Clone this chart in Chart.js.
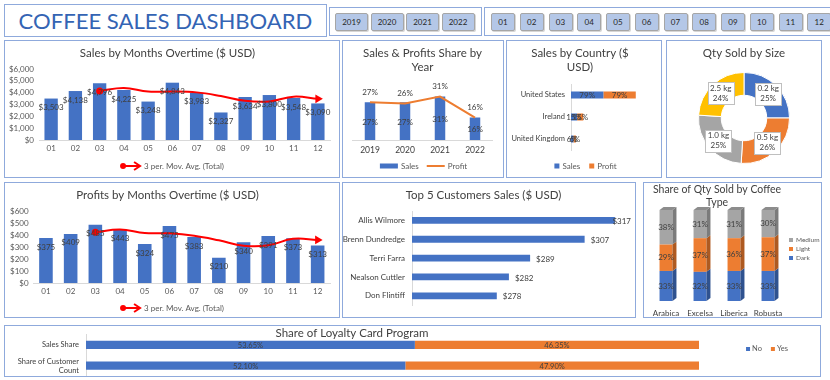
<!DOCTYPE html>
<html>
<head>
<meta charset="utf-8">
<script src="https://cdn.jsdelivr.net/npm/chart.js@4/dist/chart.umd.min.js"></script>
<style>
  html,body{margin:0;padding:0;background:#fff;}
  body{width:830px;height:380px;overflow:hidden;position:relative;font-family:Lato,"Open Sans",sans-serif;}
  .panel{position:absolute;border:1px solid #8faadc;box-sizing:border-box;background:#fff;}
  .panel canvas{position:absolute;left:0;top:0;}
  .btn{position:absolute;box-sizing:border-box;background:#b4c7e7;border:1px solid #a6a6a6;border-radius:2px;
       box-shadow:1px 1px 0 #d6d6d6;font-size:8px;color:#262626;text-align:center;line-height:16px;}
  #title{position:absolute;left:0;top:0;width:100%;text-align:center;color:#3464b4;white-space:nowrap;}
</style>
</head>
<body>
<div class="panel" style="left:4px;top:4px;width:323px;height:33px;"><div id="title">COFFEE SALES DASHBOARD</div></div>
<div class="panel" id="yearBox" style="left:329px;top:7px;width:153px;height:29px;"></div>
<div class="panel" id="monthBox" style="left:484px;top:7px;width:360px;height:29px;"></div>

<div class="panel" style="left:4px;top:40px;width:336px;height:138px;"><canvas id="cSales" width="334" height="136"></canvas></div>
<div class="panel" style="left:342px;top:40px;width:162px;height:138px;"><canvas id="cShare" width="160" height="136"></canvas></div>
<div class="panel" style="left:506px;top:40px;width:156px;height:138px;"><canvas id="cCountry" width="154" height="136"></canvas></div>
<div class="panel" style="left:666px;top:40px;width:156px;height:138px;"><canvas id="cSize" width="154" height="136"></canvas></div>

<div class="panel" style="left:4px;top:182px;width:336px;height:136px;"><canvas id="cProfit" width="334" height="134"></canvas></div>
<div class="panel" style="left:342px;top:182px;width:294px;height:136px;"><canvas id="cTop" width="292" height="134"></canvas></div>
<div class="panel" style="left:643px;top:182px;width:179px;height:136px;"><canvas id="cType" width="177" height="134"></canvas></div>

<div class="panel" style="left:4px;top:325px;width:817px;height:52px;"><canvas id="cLoyal" width="815" height="50"></canvas></div>

<script>
// ---------------- DATA ----------------
const yearButtons = ['2019','2020','2021','2022'];
const monthButtons = ['01','02','03','04','05','06','07','08','09','10','11','12'];

const months = ['01','02','03','04','05','06','07','08','09','10','11','12'];
const salesByMonth = [3503,4138,4796,4225,3248,4843,3983,2327,3634,3800,3548,3090];
const salesMovAvg = [null,null,4146,4386,4090,4105,4025,3718,3315,3254,3661,3479];
const profitByMonth = [375,409,485,443,324,475,383,210,340,391,373,313];
const profitMovAvg = [null,null,423,446,417,414,394,356,311,314,368,359];

const years = ['2019','2020','2021','2022'];
const salesShareByYear = [27,27,31,16];
const profitShareByYear = [27,26,31,16];

const countries = ['United States','Ireland','United Kingdom'];
const countrySalesShare = [79,15,6];
const countryProfitShare = [79,15,6];

const sizes = ['0.2 kg','0.5 kg','1.0 kg','2.5 kg'];
const sizeShare = [25,26,25,24];

const customers = ['Allis Wilmore','Brenn Dundredge','Terri Farra','Nealson Cuttler','Don Flintiff'];
const customerSales = [317,307,289,282,278];

const coffeeTypes = ['Arabica','Excelsa','Liberica','Robusta'];
const roastDark = [33,32,33,33];
const roastLight = [29,37,36,37];
const roastMedium = [38,31,31,30];

const loyaltyCats = ['Sales Share',['Share of Customer','Count']];
const loyaltyNo = [53.65,52.10];
const loyaltyYes = [46.35,47.90];

// ---------------- STYLE ----------------
const FONT = 'Lato, "Open Sans", sans-serif';
const BLUE = '#4472C4', ORANGE = '#ED7D31', GRAY = '#A5A5A5', YELLOW = '#FFC000', RED = '#FF0000';
const TXT = '#404040', TXT2 = '#595959', AXIS = '#d9d9d9';
const TS = 11.5; // chart title size
Chart.defaults.font.family = FONT;
Chart.defaults.color = TXT2;
Chart.defaults.animation = false;
Chart.defaults.responsive = false;
Chart.defaults.devicePixelRatio = 1;
Chart.defaults.plugins.tooltip.enabled = false;
Chart.defaults.plugins.legend.display = false;

// buttons
function makeButtons(boxId, labels, x0, step, w) {
  const box = document.getElementById(boxId);
  labels.forEach((t, i) => {
    const b = document.createElement('div');
    b.className = 'btn';
    b.textContent = t;
    b.style.left = (x0 + i * step) + 'px';
    b.style.top = '5px'; b.style.width = w + 'px'; b.style.height = '18px';
    box.appendChild(b);
  });
}
makeButtons('yearBox', yearButtons, 5, 35.5, 33);
makeButtons('monthBox', monthButtons, 6, 28.75, 24);

// main title sizing
(function(){
  const t = document.getElementById('title');
  const c = document.createElement('canvas').getContext('2d');
  c.font = '100px Lato';
  const w = c.measureText(t.textContent).width;
  const fs = 100 * 294 / w;
  t.style.fontSize = fs.toFixed(2) + 'px';
  t.style.lineHeight = '31px';
})();

// ---------------- PLUGINS ----------------
function labelPlugin(id, specs) {
  return { id, afterDatasetsDraw(chart) {
    const ctx = chart.ctx;
    specs.forEach(s => {
      const meta = chart.getDatasetMeta(s.ds);
      const vals = chart.data.datasets[s.ds].data;
      ctx.save();
      ctx.font = s.font; ctx.fillStyle = s.color || TXT;
      ctx.textAlign = s.align || 'center'; ctx.textBaseline = 'middle';
      meta.data.forEach((el, i) => {
        const v = vals[i];
        if (v === null || v === undefined) return;
        const t = s.fmt(v);
        const p = s.pos(el, ctx.measureText(t).width, chart);
        ctx.fillText(t, p.x, p.y);
      });
      ctx.restore();
    });
  }};
}

function markerDraw(ctx, it, x, y) {
  if (it.type === 'rect') { ctx.fillStyle = it.color; ctx.fillRect(x, y - it.h / 2, it.w, it.h); }
  else if (it.type === 'line') {
    ctx.strokeStyle = it.color; ctx.lineWidth = 2;
    ctx.beginPath(); ctx.moveTo(x, y); ctx.lineTo(x + it.w, y); ctx.stroke();
  } else if (it.type === 'arrow') {
    ctx.strokeStyle = it.color; ctx.fillStyle = it.color; ctx.lineWidth = 2;
    ctx.beginPath(); ctx.moveTo(x + 2, y); ctx.lineTo(x + it.w - 1, y); ctx.stroke();
    ctx.beginPath(); ctx.arc(x + 3, y, 3, 0, Math.PI * 2); ctx.fill();
    ctx.beginPath(); ctx.moveTo(x + it.w - 6, y - 4); ctx.lineTo(x + it.w, y); ctx.lineTo(x + it.w - 6, y + 4); ctx.stroke();
  }
}
function legendPlugin(id, cfg) {
  return { id, afterDraw(chart) {
    const ctx = chart.ctx;
    ctx.save();
    ctx.font = cfg.font; ctx.textBaseline = 'middle'; ctx.textAlign = 'left';
    const items = cfg.items.map(it => Object.assign({}, it, {
      text: it.text !== undefined ? it.text : chart.data.datasets[it.ds].label,
      color: it.color || chart.data.datasets[it.ds].backgroundColor
    }));
    if (cfg.vertical) {
      items.forEach((it, i) => {
        const y = cfg.y + i * cfg.step;
        markerDraw(ctx, it, cfg.x, y);
        ctx.fillStyle = TXT2; ctx.fillText(it.text, cfg.x + it.w + cfg.gap, y);
      });
    } else {
      const widths = items.map(it => it.w + cfg.gap + ctx.measureText(it.text).width);
      const total = widths.reduce((a, b) => a + b, 0) + cfg.spacing * (items.length - 1);
      let x = cfg.cx - total / 2;
      items.forEach((it, i) => {
        markerDraw(ctx, it, x, cfg.cy);
        ctx.fillStyle = TXT2; ctx.fillText(it.text, x + it.w + cfg.gap, cfg.cy);
        x += widths[i] + cfg.spacing;
      });
    }
    ctx.restore();
  }};
}

const titleOpts = (text, size, lh, top, bottom) => ({
  display: true, text, color: TXT,
  font: { size, weight: 'normal', lineHeight: lh, family: FONT },
  padding: { top, bottom }
});

function firstIdx(arr) { return arr.findIndex(v => v !== null); }
const money = v => '$' + Number(v).toLocaleString('en-US');

// ---------------- SALES / PROFITS BY MONTHS ----------------
function monthChart(id, bars, ma, maxV, step, yWidth, padBottom, titleText) {
  const f = firstIdx(ma), l = ma.length - 1;
  return new Chart(document.getElementById(id), {
    type: 'bar',
    data: { labels: months, datasets: [
      { label: 'Total', data: bars, backgroundColor: BLUE, barPercentage: 0.55, categoryPercentage: 1, order: 1 },
      { type: 'line', label: '3 per. Mov. Avg. (Total)', data: ma, borderColor: RED, backgroundColor: RED,
        borderWidth: 2, tension: 0.4, order: 0,
        pointRadius: c => c.dataIndex === f ? 3.5 : (c.dataIndex === l ? 5 : 0),
        pointStyle: c => c.dataIndex === l ? 'triangle' : 'circle',
        rotation: c => c.dataIndex === l ? 90 : 0,
        pointBackgroundColor: RED, pointBorderColor: RED, pointBorderWidth: 0 }
    ]},
    options: {
      layout: { padding: { left: 0, right: 9, top: 0, bottom: padBottom } },
      plugins: { title: titleOpts(titleText, TS, 1.2, 5.5, 8.7) },
      scales: {
        x: { grid: { display: false, drawTicks: false }, border: { color: AXIS },
             ticks: { font: { size: 8 }, padding: 4, color: TXT2, autoSkip: false, maxRotation: 0 },
             afterFit: s => { s.height = 14; } },
        y: { min: 0, max: maxV, grid: { display: false, drawTicks: false }, border: { display: false },
             ticks: { stepSize: step, padding: 5, font: { size: 8 }, color: TXT2, autoSkip: false, callback: v => money(v) },
             afterFit: s => { s.width = yWidth; } }
      }
    },
    plugins: [
      labelPlugin(id + 'L', [{ ds: 0, font: '8px ' + FONT, color: TXT, fmt: money, pos: el => ({ x: el.x, y: el.y + 9 }) }]),
      legendPlugin(id + 'G', { font: '8px ' + FONT, cx: 167, cy: 125, gap: 4, spacing: 8,
        items: [{ ds: 1, type: 'arrow', w: 20, h: 8, color: RED }] })
    ]
  });
}
monthChart('cSales', salesByMonth, salesMovAvg, 6000, 1000, 34, 23, 'Sales by Months Overtime ($ USD)');
monthChart('cProfit', profitByMonth, profitMovAvg, 600, 100, 28.6, 20, 'Profits by Months Overtime ($ USD)');

// ---------------- SALES & PROFITS SHARE BY YEAR ----------------
new Chart(document.getElementById('cShare'), {
  type: 'bar',
  data: { labels: years, datasets: [
    { label: 'Sales', data: salesShareByYear, backgroundColor: BLUE, barPercentage: 0.3, categoryPercentage: 1, order: 1 },
    { type: 'line', label: 'Profit', data: profitShareByYear, borderColor: ORANGE, backgroundColor: ORANGE,
      borderWidth: 2, pointRadius: 0, tension: 0, order: 0 }
  ]},
  options: {
    layout: { padding: { left: 9.5, right: 10.5, top: 0, bottom: 21 } },
    plugins: { title: titleOpts(['Sales & Profits Share by', 'Year'], TS, 1.2, 5.5, 9.9) },
    scales: {
      x: { grid: { display: false, drawTicks: false }, border: { color: AXIS },
           ticks: { font: { size: 8.5 }, padding: 5, color: TXT, autoSkip: false, maxRotation: 0 },
           afterFit: s => { s.height = 16; } },
      y: { display: false, min: 0, max: 40 }
    }
  },
  plugins: [
    labelPlugin('shareL', [
      { ds: 0, font: '8px ' + FONT, fmt: v => v + '%', pos: el => ({ x: el.x, y: (el.y + el.base) / 2 + 1 }) },
      { ds: 1, font: '8px ' + FONT, fmt: v => v + '%', pos: el => ({ x: el.x, y: el.y - 10 }) }
    ]),
    legendPlugin('shareG', { font: '8px ' + FONT, cx: 80.5, cy: 125, gap: 3, spacing: 8,
      items: [{ ds: 0, type: 'rect', w: 18, h: 5 }, { ds: 1, type: 'line', w: 18, h: 2 }] })
  ]
});

// ---------------- SALES BY COUNTRY ----------------
new Chart(document.getElementById('cCountry'), {
  type: 'bar',
  data: { labels: countries, datasets: [
    { label: 'Sales', data: countrySalesShare, backgroundColor: BLUE, barPercentage: 0.32, categoryPercentage: 1 },
    { label: 'Profit', data: countryProfitShare, backgroundColor: ORANGE, barPercentage: 0.32, categoryPercentage: 1 }
  ]},
  options: {
    indexAxis: 'y',
    layout: { padding: { left: 0, right: 8, top: 0, bottom: 27 } },
    plugins: { title: titleOpts(['Sales by Country ($', 'USD)'], TS, 1.2, 5.5, 9.9) },
    scales: {
      x: { stacked: true, display: false, min: 0, max: 200 },
      y: { stacked: true, grid: { display: false, drawTicks: false }, border: { color: AXIS },
           ticks: { font: { size: 7.5 }, padding: 6, color: TXT, autoSkip: false }, afterFit: s => { s.width = 64; } }
    }
  },
  plugins: [
    labelPlugin('ctyL', [
      { ds: 0, font: '8px ' + FONT, fmt: v => v + '%', pos: el => ({ x: (el.x + el.base) / 2, y: el.y }) },
      { ds: 1, font: '8px ' + FONT, fmt: v => v + '%', pos: el => ({ x: (el.x + el.base) / 2, y: el.y }) }
    ]),
    legendPlugin('ctyG', { font: '8px ' + FONT, cx: 78.5, cy: 125, gap: 3, spacing: 9,
      items: [{ ds: 0, type: 'rect', w: 5, h: 5 }, { ds: 1, type: 'rect', w: 5, h: 5 }] })
  ]
});

// ---------------- QTY SOLD BY SIZE ----------------
new Chart(document.getElementById('cSize'), {
  type: 'doughnut',
  data: { labels: sizes, datasets: [
    { data: sizeShare, backgroundColor: [BLUE, ORANGE, GRAY, YELLOW], borderColor: '#ffffff', borderWidth: 1 }
  ]},
  options: {
    cutout: '50%',
    layout: { padding: { left: 0, right: 0, top: 0, bottom: 13 } },
    plugins: { title: titleOpts('Qty Sold by Size', TS, 1.2, 5.5, 11.7) }
  },
  plugins: [{ id: 'sizeBoxes', afterDatasetsDraw(chart) {
    const ctx = chart.ctx; const meta = chart.getDatasetMeta(0);
    const vals = chart.data.datasets[0].data;
    ctx.save();
    ctx.font = '8px ' + FONT; ctx.textAlign = 'center'; ctx.textBaseline = 'middle';
    meta.data.forEach((arc, i) => {
      const p = arc.getCenterPoint();
      const w = 26, h = 22;
      const bx = Math.round(p.x - w / 2) + 0.5, by = Math.round(p.y - h / 2) + 0.5;
      ctx.fillStyle = '#ffffff'; ctx.fillRect(bx, by, w, h);
      ctx.strokeStyle = '#bfbfbf'; ctx.lineWidth = 1; ctx.strokeRect(bx, by, w, h);
      ctx.fillStyle = TXT;
      ctx.fillText(chart.data.labels[i], p.x, p.y - 5);
      ctx.fillText(vals[i] + '%', p.x, p.y + 5);
    });
    ctx.restore();
  }}]
});

// ---------------- TOP 5 CUSTOMERS ----------------
new Chart(document.getElementById('cTop'), {
  type: 'bar',
  data: { labels: customers, datasets: [
    { label: 'Sales', data: customerSales, backgroundColor: BLUE, barPercentage: 0.36, categoryPercentage: 1 }
  ]},
  options: {
    indexAxis: 'y',
    layout: { padding: { left: 0, right: 11, top: 0, bottom: 6 } },
    plugins: { title: titleOpts('Top 5 Customers Sales ($ USD)', TS, 1.2, 5.5, 8.7) },
    scales: {
      x: { display: false, min: 250, max: 320 },
      y: { grid: { display: false, drawTicks: false }, border: { color: AXIS },
           ticks: { font: { size: 8 }, padding: 7, color: TXT, autoSkip: false }, afterFit: s => { s.width = 69; } }
    }
  },
  plugins: [labelPlugin('topL', [{ ds: 0, font: '8px ' + FONT, align: 'left', fmt: money,
    pos: (el, tw, chart) => ({ x: Math.min(el.x + 6, chart.width - tw - 4), y: el.y + 1 }) }])]
});

// ---------------- SHARE OF QTY BY COFFEE TYPE (3D look) ----------------
new Chart(document.getElementById('cType'), {
  type: 'bar',
  data: { labels: coffeeTypes, datasets: [
    { label: 'Dark', data: roastDark, backgroundColor: BLUE, sideColor: '#2F528F', barPercentage: 0.38, categoryPercentage: 1 },
    { label: 'Light', data: roastLight, backgroundColor: ORANGE, sideColor: '#AE5A21', barPercentage: 0.38, categoryPercentage: 1 },
    { label: 'Medium', data: roastMedium, backgroundColor: GRAY, sideColor: '#7B7B7B', topColor: '#8C8C8C', barPercentage: 0.38, categoryPercentage: 1 }
  ]},
  options: {
    layout: { padding: { left: 5, right: 36, top: 0, bottom: 0 } },
    plugins: { title: titleOpts(['Share of Qty Sold by Coffee', 'Type'], 10.5, 1.15, 1, 1.8) },
    scales: {
      x: { stacked: true, grid: { display: false, drawTicks: false }, border: { display: false },
           ticks: { font: { size: 8 }, padding: 8, color: TXT, autoSkip: false, maxRotation: 0, minRotation: 0 },
           afterFit: s => { s.height = 16; } },
      y: { stacked: true, display: false, min: 0, max: 100 }
    }
  },
  plugins: [
    { id: 'bar3d', afterDatasetsDraw(chart) {
      const ctx = chart.ctx; const dx = 4, dy = 3;
      const n = chart.data.datasets.length;
      ctx.save();
      chart.data.datasets.forEach((ds, di) => {
        chart.getDatasetMeta(di).data.forEach(el => {
          const l = el.x - el.width / 2, r = el.x + el.width / 2, t = el.y, b = el.base;
          ctx.fillStyle = ds.sideColor;
          ctx.beginPath(); ctx.moveTo(r, t); ctx.lineTo(r + dx, t - dy); ctx.lineTo(r + dx, b - dy); ctx.lineTo(r, b); ctx.closePath(); ctx.fill();
          if (di === n - 1) {
            ctx.fillStyle = ds.topColor;
            ctx.beginPath(); ctx.moveTo(l, t); ctx.lineTo(l + dx, t - dy); ctx.lineTo(r + dx, t - dy); ctx.lineTo(r, t); ctx.closePath(); ctx.fill();
          }
        });
      });
      ctx.restore();
    }},
    labelPlugin('typeL', [0, 1, 2].map(d => ({ ds: d, font: '8px ' + FONT, fmt: v => v + '%',
      pos: el => ({ x: el.x, y: (el.y + el.base) / 2 }) }))),
    legendPlugin('typeG', { font: '6.5px ' + FONT, vertical: true, x: 145, y: 57, step: 9, gap: 3,
      items: [{ ds: 2, type: 'rect', w: 4, h: 4 }, { ds: 1, type: 'rect', w: 4, h: 4 }, { ds: 0, type: 'rect', w: 4, h: 4 }] })
  ]
});

// ---------------- LOYALTY CARD ----------------
new Chart(document.getElementById('cLoyal'), {
  type: 'bar',
  data: { labels: loyaltyCats, datasets: [
    { label: 'No', data: loyaltyNo, backgroundColor: BLUE, barPercentage: 0.4, categoryPercentage: 1 },
    { label: 'Yes', data: loyaltyYes, backgroundColor: ORANGE, barPercentage: 0.4, categoryPercentage: 1 }
  ]},
  options: {
    indexAxis: 'y',
    layout: { padding: { left: 0, right: 121, top: 0, bottom: -4.5 } },
    plugins: { title: titleOpts('Share of Loyalty Card Program', TS, 1, 2, -5) },
    scales: {
      x: { stacked: true, display: false, min: 0, max: 100 },
      y: { stacked: true, grid: { display: false, drawTicks: false }, border: { color: AXIS },
           ticks: { font: { size: 7.5 }, padding: 7, color: TXT, autoSkip: false },
           afterFit: s => { s.width = 81; s.paddingTop = 0; s.paddingBottom = 0; } }
    }
  },
  plugins: [
    labelPlugin('loyL', [0, 1].map(d => ({ ds: d, font: '7.5px ' + FONT, fmt: v => v.toFixed(2) + '%',
      pos: el => ({ x: (el.x + el.base) / 2, y: el.y + 0.5 }) }))),
    legendPlugin('loyG', { font: '7.5px ' + FONT, cx: 762, cy: 23, gap: 2, spacing: 9,
      items: [{ ds: 0, type: 'rect', w: 4, h: 4 }, { ds: 1, type: 'rect', w: 4, h: 4 }] })
  ]
});
</script>
</body>
</html>
